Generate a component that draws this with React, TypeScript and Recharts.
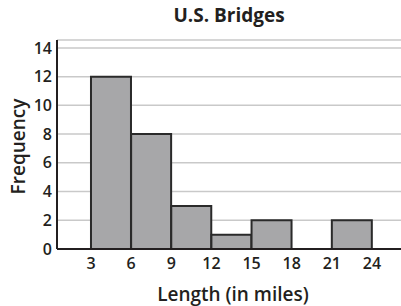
import { BarChart, Bar, XAxis, YAxis, CartesianGrid } from "recharts";

// bin midpoints (3-wide bins from 3 to 24) and their counts
const binMids = [4.5, 7.5, 10.5, 13.5, 16.5, 19.5, 22.5];
const counts = [12, 8, 3, 1, 2, 0, 2];
const xTicks = [3, 6, 9, 12, 15, 18, 21, 24];
const yTicks = [0, 2, 4, 6, 8, 10, 12, 14];

const data = binMids.map((mid, i) => ({ mid, count: counts[i] }));

const FONT = "'Open Sans', 'Noto Sans', sans-serif";
const INK = "#231f20";

export default function App() {
  return (
    <div style={{ position: "relative", width: 401, height: 306, background: "#fff", fontFamily: FONT }}>
      <style>{"body{margin:0}"}</style>
      <div
        style={{
          position: "absolute",
          left: 57,
          width: 344,
          top: 6,
          textAlign: "center",
          fontSize: 19,
          lineHeight: "19px",
          fontWeight: 700,
          color: INK,
        }}
      >
        U.S. Bridges
      </div>
      <BarChart
        width={401}
        height={306}
        data={data}
        margin={{ top: 40, right: 0, bottom: 0, left: 0 }}
        barCategoryGap={0}
        barGap={0}
      >
        <CartesianGrid horizontal vertical={false} stroke="#c9c9c9" strokeWidth={1.5} />
        <XAxis
          dataKey="mid"
          type="number"
          domain={[0.46, 26.17]}
          ticks={xTicks}
          allowDataOverflow
          interval={0}
          height={57}
          tickLine={false}
          tickSize={0}
          tickMargin={9}
          axisLine={{ stroke: INK, strokeWidth: 2 }}
          tick={{ fill: INK, fontSize: 16, fontWeight: 600, fontFamily: FONT }}
          label={{
            value: "Length (in miles)",
            position: "insideBottom",
            offset: 5,
            dx: 4,
            style: { fill: INK, fontSize: 19, fontWeight: 600, fontFamily: FONT },
          }}
        />
        <YAxis
          type="number"
          domain={[0, 14.55]}
          ticks={yTicks}
          allowDataOverflow
          interval={0}
          width={57}
          tickLine={false}
          tickSize={0}
          tickMargin={5}
          axisLine={{ stroke: INK, strokeWidth: 2 }}
          tick={{ fill: INK, fontSize: 16, fontWeight: 600, fontFamily: FONT }}
          label={{
            value: "Frequency",
            angle: -90,
            position: "insideLeft",
            offset: 18,
            dy: 2,
            style: { textAnchor: "middle", fill: INK, fontSize: 19, fontWeight: 600, fontFamily: FONT },
          }}
        />
        <Bar
          dataKey="count"
          fill="#a7a7a9"
          stroke="#2a2a2a"
          strokeWidth={2}
          isAnimationActive={false}
        />
      </BarChart>
    </div>
  );
}
